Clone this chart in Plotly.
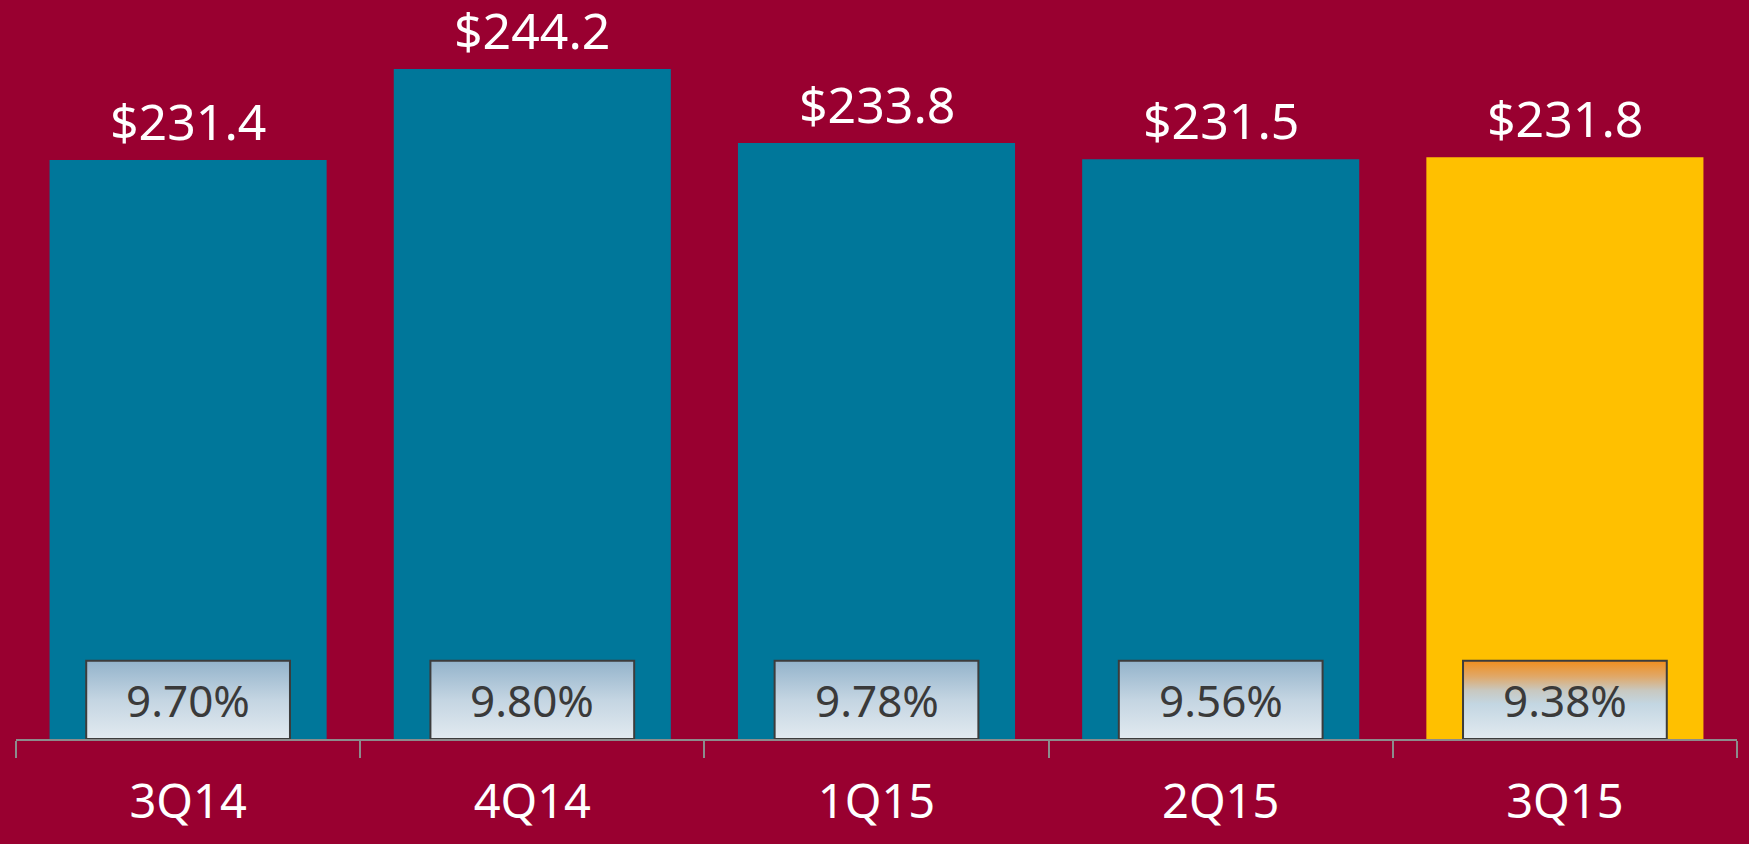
import plotly.graph_objects as go

categories = ["3Q14", "4Q14", "1Q15", "2Q15", "3Q15"]
values = [231.4, 244.2, 233.8, 231.5, 231.8]
value_labels = ["$231.4", "$244.2", "$233.8", "$231.5", "$231.8"]
pct_labels = ["9.70%", "9.80%", "9.78%", "9.56%", "9.38%"]
bar_colors = ["#00779A", "#00779A", "#00779A", "#00779A", "#FFC000"]

BG = "#990030"
FONT = "Noto Sans"
Y0 = 150
Y1 = 253.9
BOX_H = 11.0
BOX_HALF = 0.296

fig = go.Figure()
fig.add_trace(go.Bar(
    x=categories, y=[v - Y0 for v in values], base=Y0,
    marker=dict(color=bar_colors, line=dict(width=0)),
    hoverinfo="skip", showlegend=False,
))

blue_scale = [[0, "#E2EAF0"], [0.5, "#C4D5E2"], [1, "#93B3CB"]]
orange_scale = [[0, "#E2EAF0"], [0.45, "#C3D6E2"], [0.62, "#C8C8C0"], [0.8, "#E0A868"], [1, "#F08E1E"]]

for i, (c, p) in enumerate(zip(categories, pct_labels)):
    scale = orange_scale if i == len(categories) - 1 else blue_scale
    xs = [i - BOX_HALF, i + BOX_HALF, i + BOX_HALF, i - BOX_HALF, i - BOX_HALF]
    ys = [Y0, Y0, Y0 + BOX_H, Y0 + BOX_H, Y0]
    fig.add_trace(go.Scatter(
        x=xs, y=ys, xaxis="x2", yaxis="y", mode="lines", fill="toself",
        fillgradient=dict(type="vertical", colorscale=scale, start=Y0, stop=Y0 + BOX_H),
        line=dict(color="#3C3C3C", width=2), hoverinfo="skip", showlegend=False,
    ))
    fig.add_annotation(x=i, y=Y0 + BOX_H / 2, xref="x2", yref="y", text=p, showarrow=False,
                       font=dict(family=FONT, size=44, color="#3A3A3A"), yanchor="middle")

for c, v, t in zip(categories, values, value_labels):
    fig.add_annotation(x=c, y=v, xref="x", yref="y", text=t, showarrow=False,
                       yanchor="bottom", yshift=3,
                       font=dict(family=FONT, size=50, color="white"))

fig.update_layout(
    width=1749, height=844,
    paper_bgcolor=BG, plot_bgcolor=BG,
    margin=dict(l=16, r=12, t=0, b=105),
    bargap=0.195,
    xaxis=dict(type="category", tickson="boundaries", ticks="outside", ticklen=17,
               tickwidth=2, tickcolor="#8C8C8C", showline=True, linecolor="#8C8C8C",
               linewidth=2, showgrid=False, zeroline=False,
               tickfont=dict(family=FONT, size=47, color="white"), ticklabelstandoff=21,
               range=[-0.5, 4.5]),
    xaxis2=dict(overlaying="x", range=[-0.5, 4.5], visible=False, showgrid=False),
    yaxis=dict(range=[Y0, Y1], visible=False, showgrid=False, zeroline=False),
    showlegend=False,
)

fig.write_html("out.html", config={"displayModeBar": False},
               post_script="document.body.style.margin='0';document.body.style.background='#990030';")
